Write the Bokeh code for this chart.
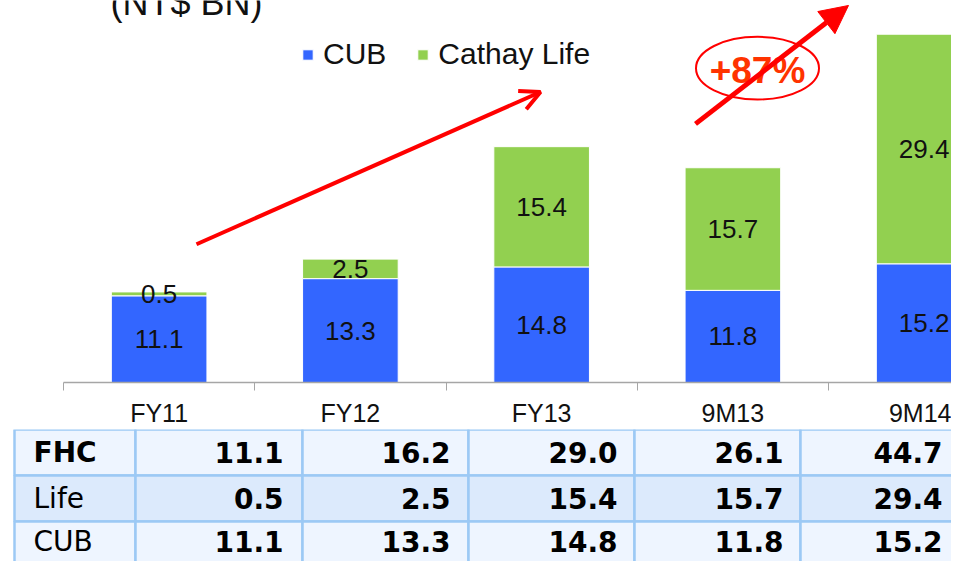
from bokeh.plotting import figure
from bokeh.models import (ColumnDataSource, Range1d, FixedTicker, Arrow, OpenHead,
                          NormalHead)
from bokeh.layouts import column
from bokeh.core.properties import value
from bokeh.embed import file_html
from bokeh.resources import INLINE

# ---- data ----
categories = ["FY11", "FY12", "FY13", "9M13", "9M14"]
cub = [11.1, 13.3, 14.8, 11.8, 15.2]
cathay_life = [0.5, 2.5, 15.4, 15.7, 29.4]
fhc = [11.1, 16.2, 29.0, 26.1, 44.7]
table_rows = ["FHC", "Life", "CUB"]
growth_label = "+87%"
unit_label = "(NT$ BN)"

BLUE = "#3366FF"
GREEN = "#92D050"
RED = "#FF0000"

# ---- geometry helpers (reference pixel -> data) ----
CAT_W = 191.25      # px per category
PX_UNIT = 7.85      # px per NT$ BN
X0_REF, Y0_REF = 63, 384


def dx(ref_x):
    return (ref_x - X0_REF) / CAT_W


def dy(ref_y):
    return (Y0_REF - ref_y) / PX_UNIT


W = 951
H_CHART = 429
H_TABLE = 561 - H_CHART

centers = [i + 0.5 for i in range(len(categories))]
src = ColumnDataSource(dict(x=centers, cat=categories, cub=cub, life=cathay_life))

p = figure(width=W, height=H_CHART, output_backend="svg", toolbar_location=None,
           x_range=Range1d(dx(0), dx(W)),
           y_range=Range1d(0, dy(0)),
           min_border_left=0, min_border_right=0, min_border_top=0,
           min_border_bottom=H_CHART - Y0_REF, y_axis_location=None)
p.outline_line_color = None
p.xgrid.visible = False
p.ygrid.visible = False
p.background_fill_color = "white"
p.border_fill_color = "white"

p.vbar_stack(["cub", "life"], x="x", width=0.5, source=src, color=[BLUE, GREEN],
             line_color="white", line_width=1, legend_label=["CUB", "Cathay Life"])

# data labels
lab_x = centers + centers
lab_y = [c / 2 for c in cub] + [c + l / 2 for c, l in zip(cub, cathay_life)]
lab_t = ["%.1f" % v for v in cub] + ["%.1f" % v for v in cathay_life]
p.text(x=lab_x, y=lab_y, text=lab_t, text_align="center", text_baseline="middle",
       text_font=value("Liberation Sans"), text_font_size="26px", text_color="#111111")

# x axis: labels at centers, tick marks at category boundaries
ax = p.xaxis[0]
ax.bounds = (0, dx(W))
ax.ticker = FixedTicker(ticks=centers, minor_ticks=list(range(len(categories) + 1)))
ax.major_label_overrides = {c: n for c, n in zip(centers, categories)}
ax.major_tick_out = 0
ax.major_tick_in = 0
ax.minor_tick_out = 8
ax.minor_tick_in = 0
ax.minor_tick_line_color = "#A6A6A6"
ax.axis_line_color = "#A6A6A6"
ax.axis_line_width = 1.5
ax.major_label_standoff = 8
ax.major_label_text_font = "Liberation Sans"
ax.major_label_text_font_size = "25px"
ax.major_label_text_color = "#111111"

# legend
lg = p.legend[0]
lg.orientation = "horizontal"
lg.location = (301, 311)
lg.border_line_color = None
lg.background_fill_alpha = 0
lg.padding = 0
lg.margin = 0
lg.spacing = 30
lg.label_standoff = 9
lg.glyph_width = 13
lg.glyph_height = 13
lg.label_text_font = "Liberation Sans"
lg.label_text_font_size = "30px"
lg.label_text_color = "#111111"

# unit title (partly cut off at top)
p.text(x=[dx(110)], y=[dy(2)], text=[unit_label], text_font=value("Liberation Sans"),
       text_font_size="36px", text_color="#111111",
       text_baseline="middle", text_align="left")

# arrows
p.add_layout(Arrow(x_start=dx(196), y_start=dy(245), x_end=dx(540), y_end=dy(92),
                   line_color=RED, line_width=4,
                   end=OpenHead(size=20, line_color=RED, line_width=4)))
p.add_layout(Arrow(x_start=dx(695), y_start=dy(124), x_end=dx(848), y_end=dy(5),
                   line_color=RED, line_width=5,
                   end=NormalHead(size=28, fill_color=RED, line_color=RED)))

# growth bubble
p.ellipse(x=[dx(757)], y=[dy(68)], width=123 / CAT_W, height=63 / PX_UNIT,
          fill_color="white", line_color=RED, line_width=2)
p.text(x=[dx(757)], y=[dy(70)], text=[growth_label], text_align="center",
       text_baseline="middle", text_font=value("Liberation Sans"),
       text_font_style="bold", text_font_size="37px", text_color="#FF3300")

# ---- table ----
t = figure(width=W, height=H_TABLE, output_backend="svg", toolbar_location=None,
           x_range=Range1d(0, W), y_range=Range1d(H_TABLE, 0),
           min_border=0, x_axis_location=None, y_axis_location=None)
t.outline_line_color = None
t.xgrid.visible = False
t.ygrid.visible = False

col_edges = [14, 135, 302, 468, 634, 800, 967]
row_edges = [0, 46, 92, 142]
row_fill = ["#EEF5FF", "#DCEAFC", "#EEF5FF"]
qs = dict(left=[], right=[], top=[], bottom=[], fill=[])
for r in range(3):
    for c in range(6):
        qs["left"].append(col_edges[c])
        qs["right"].append(col_edges[c + 1])
        qs["top"].append(row_edges[r])
        qs["bottom"].append(row_edges[r + 1])
        qs["fill"].append(row_fill[r])
t.quad(left="left", right="right", top="top", bottom="bottom", fill_color="fill",
       line_color="#9CC9F5", line_width=2.5, source=ColumnDataSource(qs))

row_mid = [23, 69, 112]
table_values = [fhc, cathay_life, cub]
value_right = [283, 450, 617, 783, 942]
for r, name in enumerate(table_rows):
    t.text(x=[33], y=[row_mid[r]], text=[name], text_align="left",
           text_baseline="middle", text_font=value("DejaVu Sans"),
           text_font_size="28px", text_color="black",
           text_font_style="bold" if r == 0 else "normal")
    t.text(x=value_right, y=[row_mid[r]] * 5, text=["%.1f" % v for v in table_values[r]],
           text_align="right", text_baseline="middle",
           text_font=value("DejaVu Sans"), text_font_size="28px",
           text_font_style="bold", text_color="black")

layout = column(p, t, spacing=0)
open("out.html", "w").write(file_html(layout, INLINE))
